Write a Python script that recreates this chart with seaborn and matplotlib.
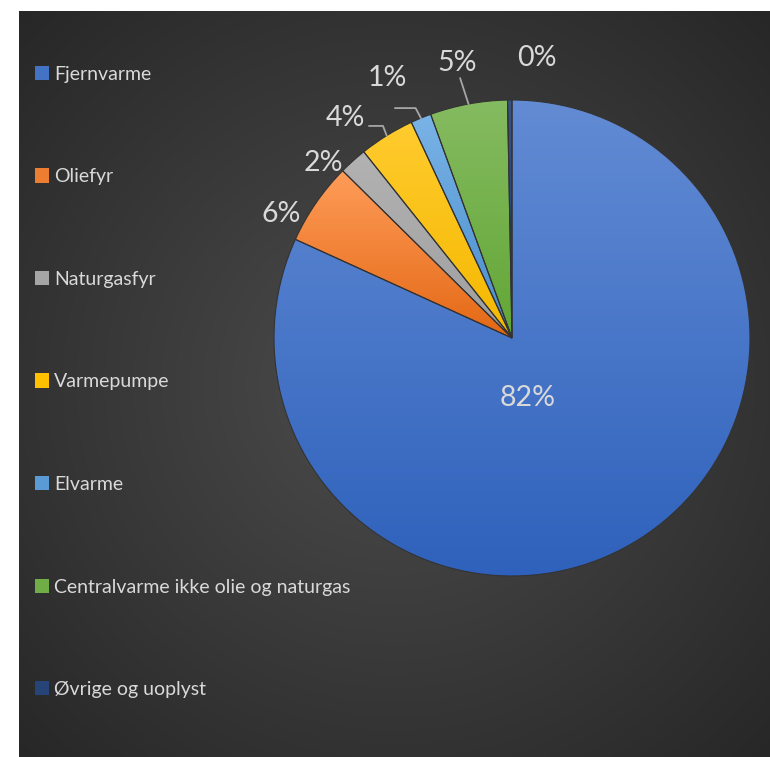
import numpy as np
import matplotlib
matplotlib.use('Agg')
import matplotlib.pyplot as plt
import seaborn as sns
from matplotlib.patches import Patch
from matplotlib.colors import to_rgb, rgb_to_hsv, hsv_to_rgb

# heating types and their share of dwellings (%)
categories = ['Fjernvarme', 'Oliefyr', 'Naturgasfyr', 'Varmepumpe', 'Elvarme',
              'Centralvarme ikke olie og naturgas', 'Øvrige og uoplyst']
shares = [81.8, 5.6, 1.9, 3.75, 1.4, 5.25, 0.3]
colors = ['#4472C4', '#ED7D31', '#A5A5A5', '#FFC000', '#5B9BD5', '#70AD47', '#264478']

sns.set_theme(style='white')
plt.rcParams['font.family'] = ['Lato', 'DejaVu Sans']

W, H = 770, 757
fig = plt.figure(figsize=(W / 100, H / 100), dpi=100)
fig.patch.set_facecolor('white')

# dark radial background of the chart area
bg = fig.add_axes([19 / W, 0, (W - 19) / W, (H - 11) / H])
yy, xx = np.mgrid[0:746, 0:751]
d = np.hypot(xx - 375, yy - 373) / 540
d = np.clip(d, 0, 1)
c0, c1 = np.array([0.30, 0.30, 0.30]), np.array([0.15, 0.15, 0.15])
img = c0[None, None, :] + (c1 - c0)[None, None, :] * d[..., None]
bg.imshow(img, aspect='auto', extent=(0, 1, 0, 1))
bg.axis('off')

# pie axes: centre (512, 338), radius 238 px
R = 238
ax = fig.add_axes([(512 - R) / W, (H - 338 - R) / H, 2 * R / W, 2 * R / H])
wedges, _ = ax.pie(shares, colors=colors, startangle=90, counterclock=False,
                   wedgeprops=dict(edgecolor='#333333', linewidth=0.8))
ax.set_aspect('equal')
ax.axis('off')


def shade(col, smul, vmul):
    h, s, v = rgb_to_hsv(np.array(to_rgb(col)))
    return hsv_to_rgb([h, min(s * smul, 1), min(v * vmul, 1)])


# light-to-dark gradient inside each slice
for w, col in zip(wedges, colors):
    top = shade(col, 0.82, 1.08)
    bot = shade(col, 1.15, 0.96)
    v = w.get_path().vertices
    ymin, ymax = v[:, 1].min(), v[:, 1].max()
    xmin, xmax = v[:, 0].min(), v[:, 0].max()
    t = np.linspace(0, 1, 128)[:, None]
    grad = (top[None, :] * (1 - t) + bot[None, :] * t)[:, None, :]
    im = ax.imshow(grad, extent=(xmin, xmax, ymin, ymax), aspect='auto', zorder=2)
    im.set_clip_path(w)
    w.set_facecolor('none')
    w.set_zorder(3)
ax.set_xlim(-1, 1)
ax.set_ylim(-1, 1)

# percent labels: (radius, angular shift in degrees, clockwise)
label_place = [(0.26, 17.7), (1.10, -6.2), (1.08, -5.2), (1.16, -5.3),
               (1.21, -3.1), (1.18, -0.8), (1.18, 5.6)]
txt_col = '#d9d9d9'
mids = []
for w, v, (r, sh) in zip(wedges, shares, label_place):
    mid = (w.theta1 + w.theta2) / 2
    mids.append(mid)
    a = np.deg2rad(mid - sh)
    ax.text(r * np.cos(a), r * np.sin(a), f'{round(v)}%', ha='center', va='center',
            color=txt_col, fontsize=20.5, zorder=5)

# leader lines for the crowded slices
leaders = {3: [(-0.601, 0.891), (-0.542, 0.891)],
           4: [(-0.492, 0.966), (-0.405, 0.966)],
           5: [(-0.218, 1.092)]}
for i, pts in leaders.items():
    a = np.deg2rad(mids[i])
    pts = pts + [(np.cos(a), np.sin(a))]
    ax.plot([p[0] for p in pts], [p[1] for p in pts], color='#a6a6a6', lw=1.3,
            zorder=4, clip_on=False)

handles = [Patch(facecolor=c, edgecolor='none') for c in colors]
leg = fig.legend(handles, categories, loc='upper left', bbox_to_anchor=(25 / W, 1 - 56 / H),
                 frameon=False, fontsize=14, labelcolor=txt_col, labelspacing=4.4,
                 handlelength=0.75, handleheight=0.75, handletextpad=0.25, borderpad=0)

fig.savefig('out.png', dpi=100, facecolor=fig.get_facecolor())
